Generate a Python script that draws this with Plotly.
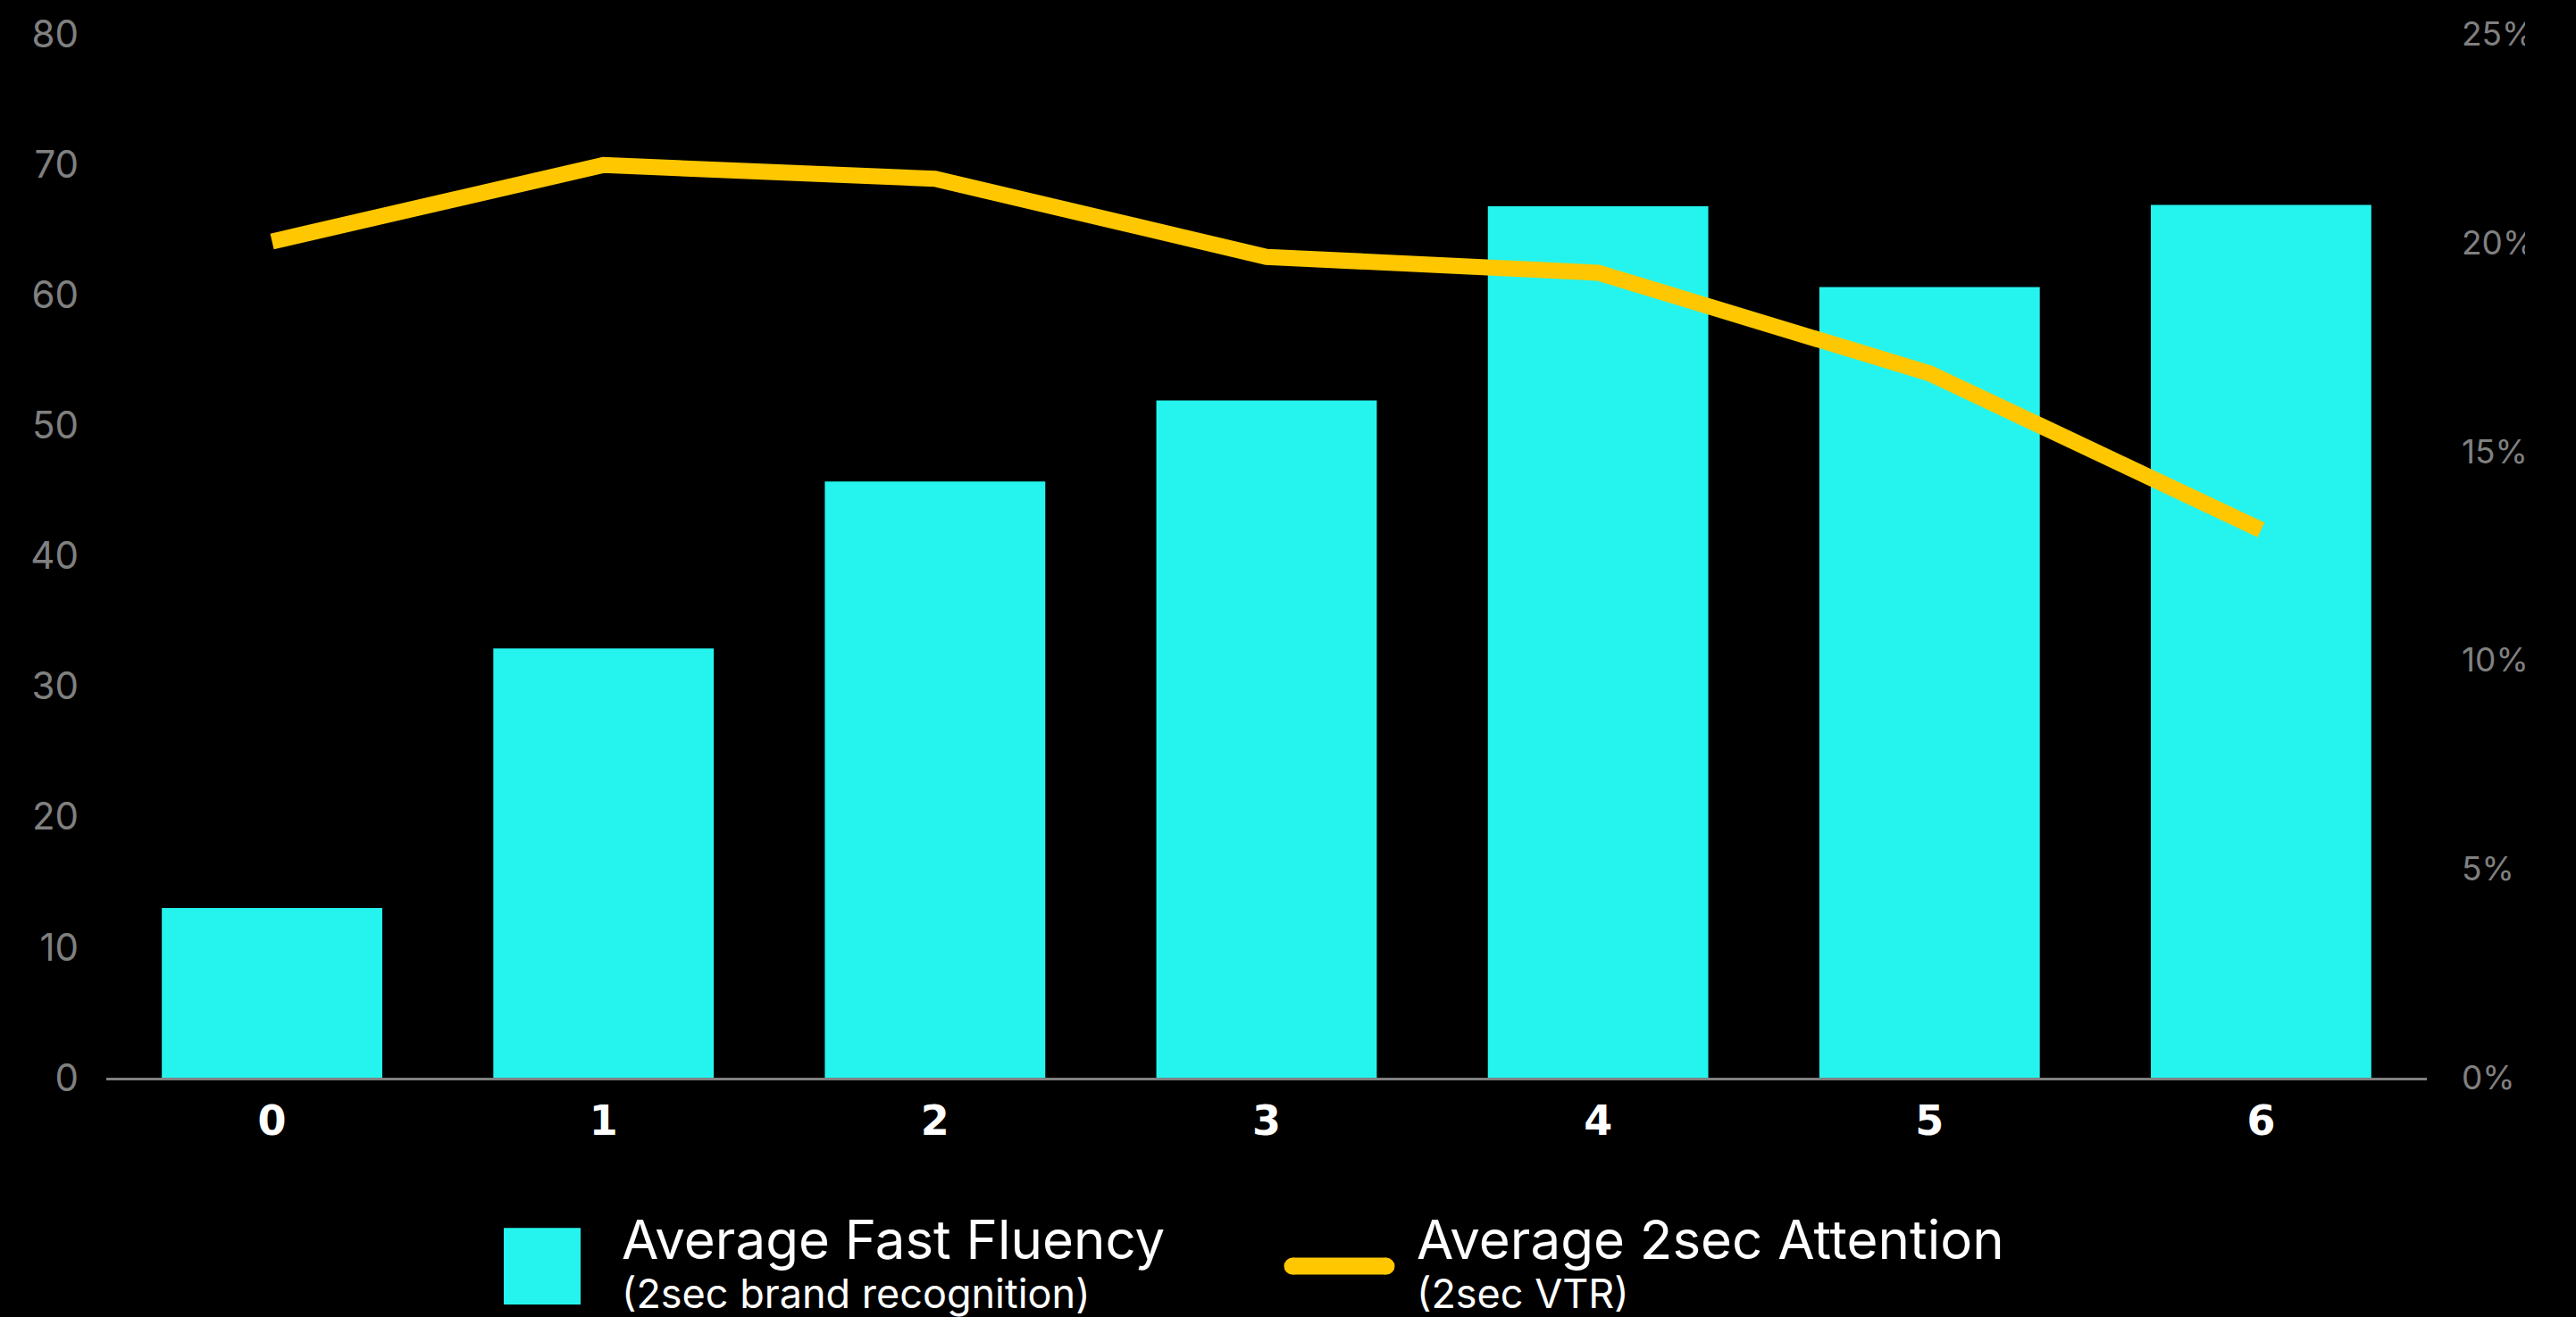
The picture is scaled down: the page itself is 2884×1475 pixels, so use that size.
import plotly.graph_objects as go

# ---- data ----
categories = ["0", "1", "2", "3", "4", "5", "6"]
fast_fluency = [13.0, 32.9, 45.7, 51.9, 66.8, 60.6, 66.9]
attention_2sec = [0.2003, 0.2186, 0.2153, 0.1966, 0.1928, 0.1687, 0.1312]
left_ticks = [0, 10, 20, 30, 40, 50, 60, 70, 80]
right_ticks = [0, 0.05, 0.10, 0.15, 0.20, 0.25]

bar_name = "Average Fast Fluency"
bar_sub = "(2sec brand recognition)"
line_name = "Average 2sec Attention"
line_sub = "(2sec VTR)"

CYAN = "#25F4EE"
YELLOW = "#FEC700"
GRAY = "#808080"

W, H = 2884, 1475
ML, MR, MT, MB = 119, 167, 33, 268
PW, PH = W - ML - MR, H - MT - MB


def px(x):
    return (x - ML) / PW


def py(y):
    return (H - MB - y) / PH


fig = go.Figure()
fig.add_trace(go.Bar(x=categories, y=fast_fluency, marker=dict(color=CYAN, line=dict(width=0)),
                     name=bar_name, showlegend=False, yaxis="y"))
fig.add_trace(go.Scatter(x=categories, y=attention_2sec, mode="lines",
                         line=dict(color=YELLOW, width=18), name=line_name,
                         showlegend=False, yaxis="y2"))

fig.update_layout(
    width=W, height=H,
    margin=dict(l=ML, r=MR, t=MT, b=MB, pad=0),
    paper_bgcolor="black", plot_bgcolor="black",
    bargap=0.335,
    font=dict(family="Inter", color="white"),
    xaxis=dict(
        type="category", showgrid=False, zeroline=False,
        showline=True, linecolor=GRAY, linewidth=3,
        tickfont=dict(family="DejaVu Sans", size=46, color="white", weight="bold"),
        ticklabelstandoff=6,
    ),
    yaxis=dict(
        range=[0, 80], tickvals=left_ticks, showgrid=False, zeroline=False, showline=False,
        tickfont=dict(family="Inter", size=42, color=GRAY), ticklabelstandoff=30,
    ),
    yaxis2=dict(
        range=[0, 0.25], tickvals=right_ticks, tickformat=".0%", overlaying="y", side="right",
        showgrid=False, zeroline=False, showline=False,
        tickfont=dict(family="Inter", size=37, color=GRAY), ticklabelstandoff=38,
    ),
)

shapes = [
    # legend swatch for bars
    dict(type="rect", xref="paper", yref="paper", x0=px(564), x1=px(650), y0=py(1462), y1=py(1376),
         fillcolor=CYAN, line=dict(width=0), layer="above"),
    # legend swatch for line
    dict(type="line", xref="paper", yref="paper", x0=px(1447), x1=px(1552), y0=py(1419), y1=py(1419),
         line=dict(color=YELLOW, width=19), layer="above"),
    # crop of right tick labels at the page edge
    dict(type="rect", xref="paper", yref="paper", x0=px(2827), x1=px(2900), y0=-0.1, y1=1.1,
         fillcolor="black", line=dict(width=0), layer="above"),
]
for cx in (1447, 1552):
    shapes.append(dict(type="circle", xref="paper", yref="paper", xsizemode="pixel", ysizemode="pixel",
                       xanchor=px(cx), yanchor=py(1419), x0=-9.5, x1=9.5, y0=-9.5, y1=9.5,
                       fillcolor=YELLOW, line=dict(width=0), layer="above"))
fig.update_layout(shapes=shapes)

annotations = [
    dict(text=bar_name, x=px(695), y=py(1389), font=dict(size=60, color="white", family="Inter")),
    dict(text=bar_sub, x=px(695), y=py(1450), font=dict(size=45, color="white", family="Inter")),
    dict(text=line_name, x=px(1585), y=py(1389), font=dict(size=60, color="white", family="Inter")),
    dict(text=line_sub, x=px(1585), y=py(1450), font=dict(size=45, color="white", family="Inter")),
]
for a in annotations:
    a.update(xref="paper", yref="paper", xanchor="left", yanchor="middle", showarrow=False, borderpad=0)
fig.update_layout(annotations=annotations)

fig.write_html("out.html", config={"displayModeBar": False},
               post_script="document.body.style.margin='0';")
